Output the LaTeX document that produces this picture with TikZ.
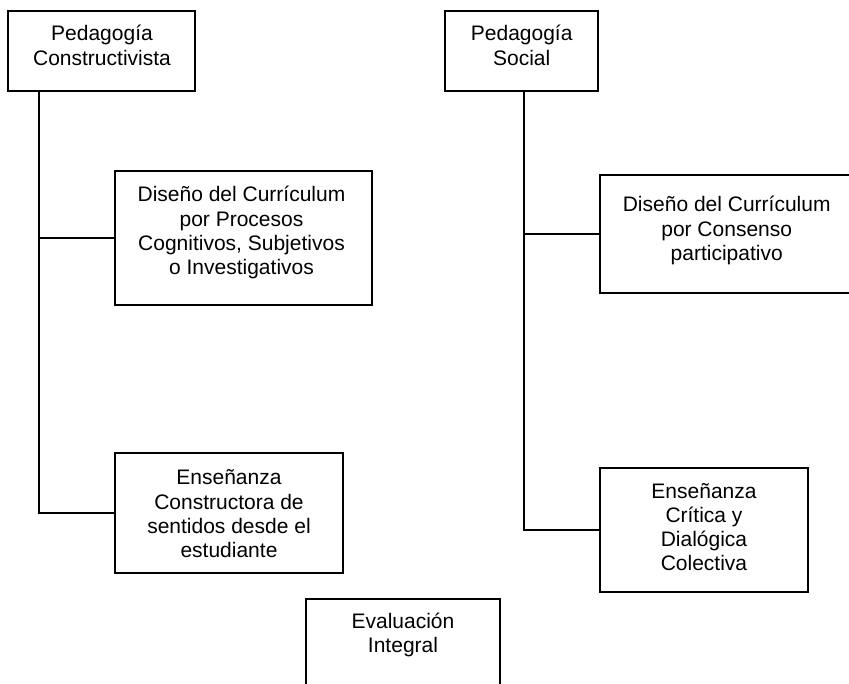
\documentclass[tikz,border=0pt]{standalone}
\usepackage{fontspec}
\setmainfont{Liberation Sans}
\begin{document}
\begin{tikzpicture}[x=1pt,y=-1pt,
  box/.style={draw=black,line width=2pt,rectangle,inner sep=0pt,outer sep=0pt},
  txt/.style={anchor=base,inner sep=0pt,font=\fontsize{21}{24.2}\selectfont},
  conn/.style={draw=black,line width=2pt}]
\clip (0,0) rectangle (849,684);
\fill[white] (0,0) rectangle (849,684);
% boxes
\node[box,minimum width=187pt,minimum height=80pt] (c1) at (101.5,51) {};
\node[box,minimum width=153pt,minimum height=80pt] (c2) at (521.5,51) {};
\node[box,minimum width=257pt,minimum height=134pt] (c3) at (243.5,238) {};
\node[box,minimum width=260pt,minimum height=118pt] (c4) at (730,234) {};
\node[box,minimum width=228pt,minimum height=120pt] (c5) at (229,513) {};
\node[box,minimum width=208pt,minimum height=124pt] (c6) at (704,530) {};
\node[box,minimum width=194pt,minimum height=122pt] (c7) at (403,660) {};
% texts
\node[txt] (t1) at (102,41) {\parbox[t]{200pt}{\centering Pedagogía\\Constructivista}};
\node[txt] (t2) at (521.7,41) {\parbox[t]{200pt}{\centering Pedagogía\\Social}};
\node[txt] (t3) at (241.5,202) {\parbox[t]{260pt}{\centering Diseño del Currículum\\por Procesos\\Cognitivos, Subjetivos\\o Investigativos}};
\node[txt] (t4) at (726.7,212) {\parbox[t]{260pt}{\centering Diseño del Currículum\\por Consenso\\participativo}};
\node[txt] (t5) at (229,485) {\parbox[t]{240pt}{\centering Enseñanza\\Constructora de\\sentidos desde el\\estudiante}};
\node[txt] (t6) at (704,498) {\parbox[t]{200pt}{\centering Enseñanza\\Crítica y\\Dialógica\\Colectiva}};
\node[txt] (t7) at (403,628) {\parbox[t]{200pt}{\centering Evaluación\\Integral}};
% connectors
\coordinate (tl) at (39,0);
\coordinate (tr) at (524,0);
\draw[conn] (tl |- c1.south) -- (tl |- c5.west) -- (c5.west);
\draw[conn] (tl |- c3.west) -- (c3.west);
\draw[conn] (tr |- c2.south) -- (tr |- c6.west) -- (c6.west);
\draw[conn] (tr |- c4.west) -- (c4.west);
\end{tikzpicture}
\end{document}
